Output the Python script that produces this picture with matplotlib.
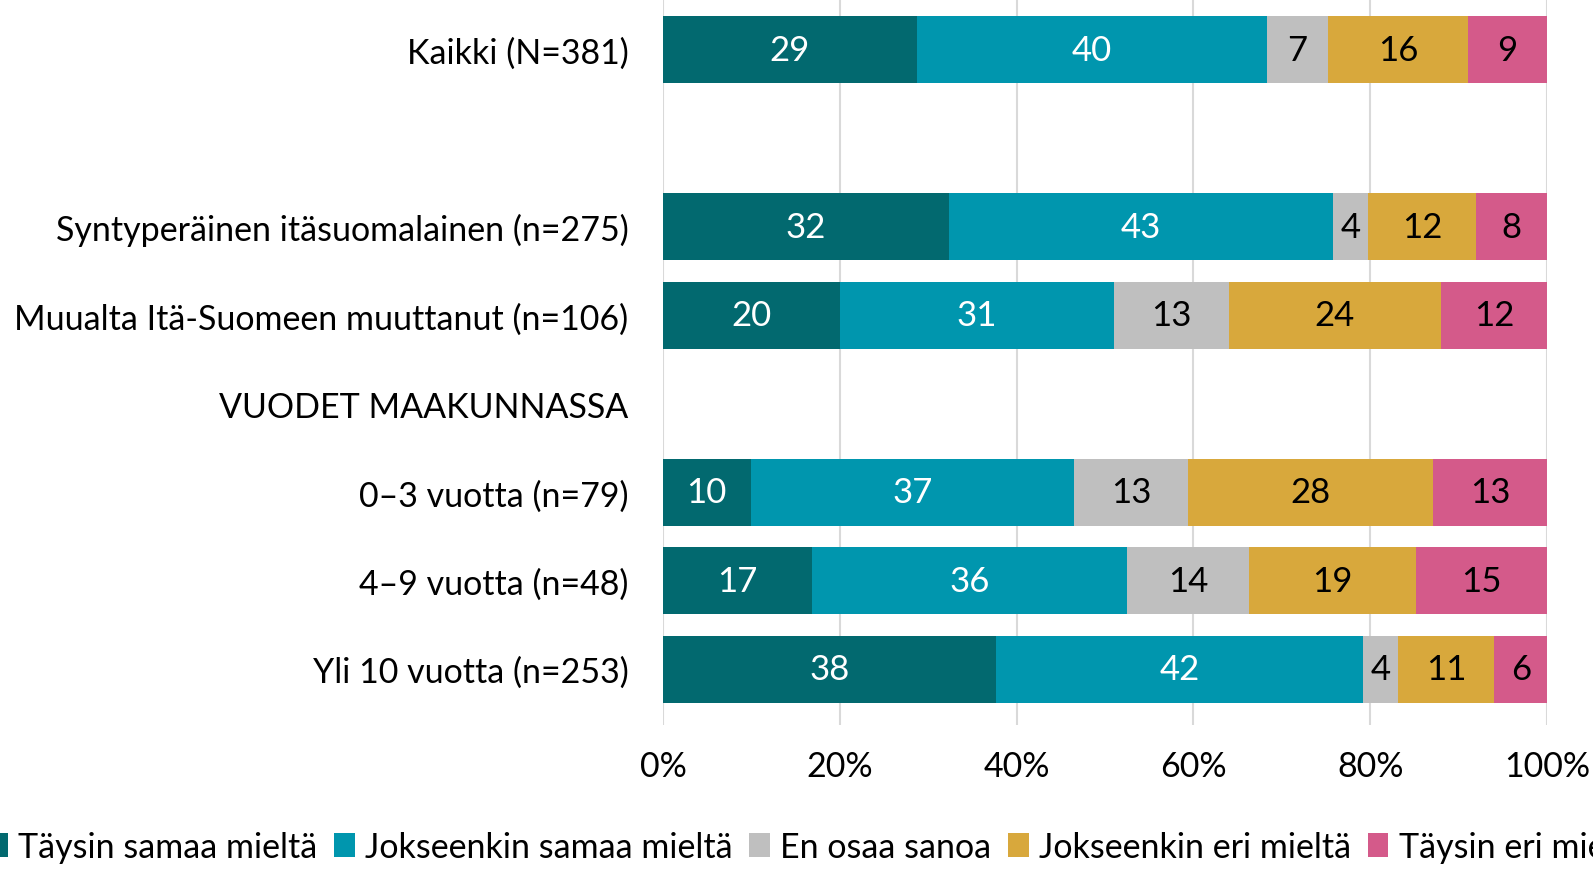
import matplotlib
matplotlib.use("Agg")
import matplotlib.pyplot as plt
import numpy as np

categories = ["Kaikki (N=381)", "", "Syntyperäinen itäsuomalainen (n=275)",
              "Muualta Itä-Suomeen muuttanut (n=106)", "VUODET MAAKUNNASSA",
              "0–3 vuotta (n=79)", "4–9 vuotta (n=48)", "Yli 10 vuotta (n=253)"]
series = ["Täysin samaa mieltä", "Jokseenkin samaa mieltä", "En osaa sanoa",
          "Jokseenkin eri mieltä", "Täysin eri mieltä"]
taysin_samaa = [29, None, 32, 20, None, 10, 17, 38]
jokseenkin_samaa = [40, None, 43, 31, None, 37, 36, 42]
en_osaa = [7, None, 4, 13, None, 13, 14, 4]
jokseenkin_eri = [16, None, 12, 24, None, 28, 19, 11]
taysin_eri = [9, None, 8, 12, None, 13, 15, 6]
xticklabels = ["0%", "20%", "40%", "60%", "80%", "100%"]

colors = ["#02696F", "#0096AE", "#BFBFBF", "#D8A83C", "#D45A8A"]
textcolors = ["white", "white", "black", "black", "black"]

plt.rcParams['font.family'] = ['Lato', 'DejaVu Sans']
FS = 24.5

fig = plt.figure(figsize=(15.93, 8.70), dpi=100)
ax = fig.add_axes([663/1593, 1 - 726/870, 884/1593, 726/870])

data = [taysin_samaa, jokseenkin_samaa, en_osaa, jokseenkin_eri, taysin_eri]
ypos = np.arange(len(categories))
valid = [i for i in range(len(categories)) if taysin_samaa[i] is not None]
totals = {i: sum(d[i] for d in data) for i in valid}
left = {i: 0.0 for i in valid}
for s, d in enumerate(data):
    ys = [ypos[i] for i in valid]
    widths = [d[i] / totals[i] for i in valid]
    lefts = [left[i] for i in valid]
    ax.barh(ys, widths, left=lefts, height=0.757, color=colors[s],
            label=series[s], zorder=3)
    for i, w, l in zip(valid, widths, lefts):
        ax.text(l + w / 2, ypos[i], str(d[i]), ha='center', va='center',
                color=textcolors[s], fontsize=FS + 0.5, zorder=4)
    for i, w in zip(valid, widths):
        left[i] += w

ax.set_xlim(0, 1)
ax.set_ylim(7.63, -0.574)
ax.set_yticks(ypos)
ax.set_yticklabels(categories, fontsize=FS)
ax.set_xticks(np.linspace(0, 1, 6))
ax.set_xticklabels(xticklabels, fontsize=FS)
ax.tick_params(axis='y', length=0, pad=25)
ax.tick_params(axis='x', length=0, pad=18)
for sp in ax.spines.values():
    sp.set_visible(False)
ax.grid(axis='x', color='#D9D9D9', linewidth=1.5, zorder=0)
ax.set_axisbelow(True)

handles, labels = ax.get_legend_handles_labels()
fig.legend(handles, labels, loc='center left', bbox_to_anchor=(-0.008, 1 - 848/870),
           ncol=5, frameon=False, fontsize=FS, handlelength=0.6, handleheight=0.7,
           handletextpad=0.3, columnspacing=0.5, borderaxespad=0, borderpad=0)

fig.savefig("out.png", dpi=100)
